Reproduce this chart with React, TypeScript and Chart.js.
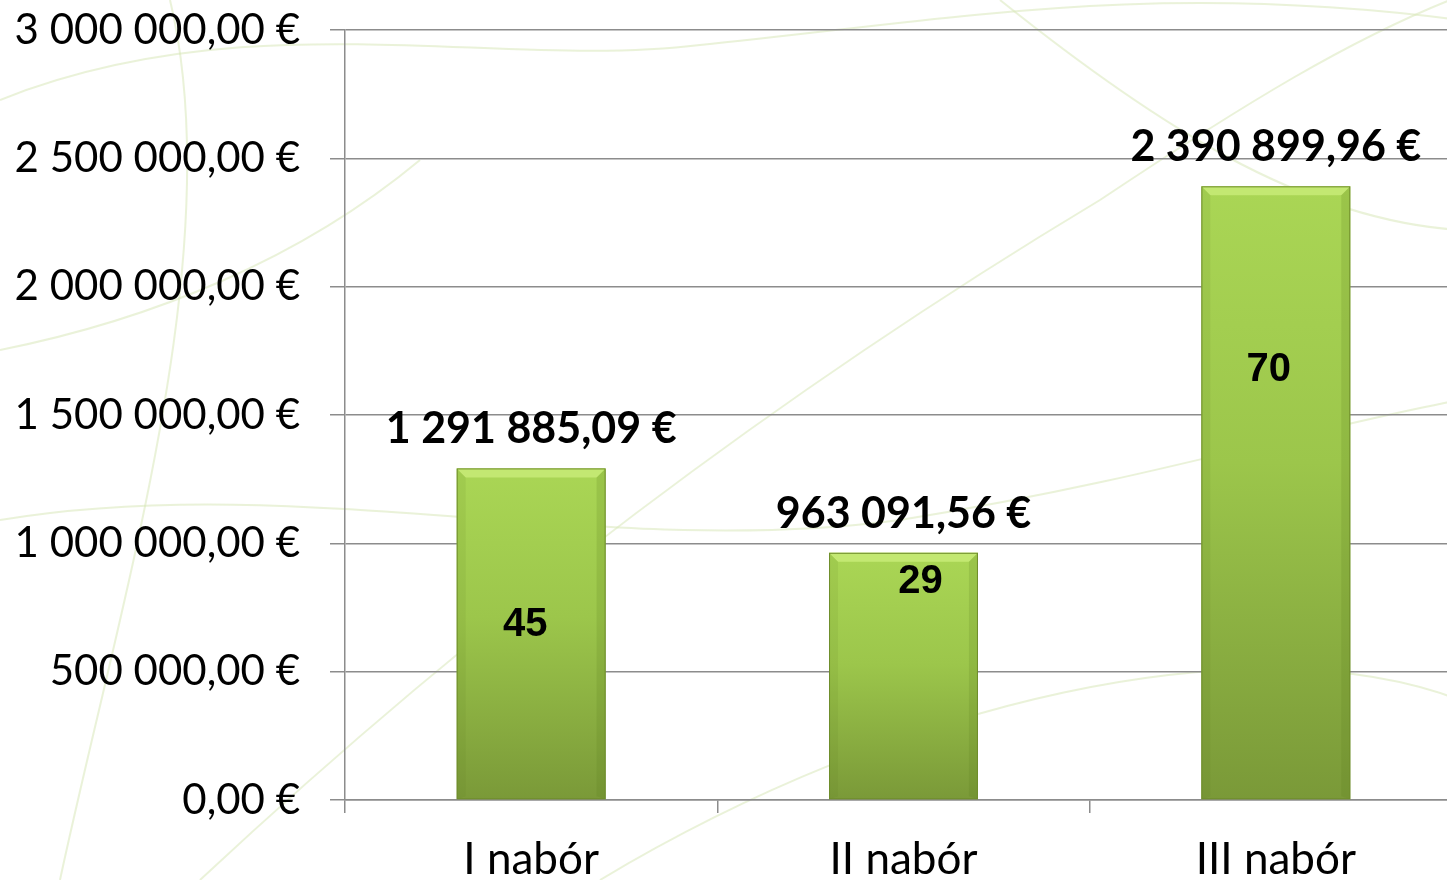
import React, { useEffect, useRef } from "react";
import { Chart, registerables } from "chart.js";

Chart.register(...registerables);

const categories = ["I nabór", "II nabór", "III nabór"];
const amounts = [1291885.09, 963091.56, 2390899.96];
const counts = [45, 29, 70];
const yMin = 0;
const yMax = 3000000;
const yStep = 500000;

// placement of the count labels inside the bars (value units / pixel shift)
const countLabelAt = [682000, 850000, 1675000];
const countLabelShift = [-6, 17, -7];

function formatEuro(v: number): string {
  const [i, d] = Number(v).toFixed(2).split(".");
  return i.replace(/\B(?=(\d{3})+(?!\d))/g, " ") + "," + d + " €";
}

const backgroundPlugin = {
  id: "bgCurves",
  beforeDraw(chart: any) {
    const ctx = chart.ctx;
    ctx.save();
    ctx.fillStyle = "#ffffff";
    ctx.fillRect(0, 0, chart.width, chart.height);
    ctx.strokeStyle = "rgba(214, 230, 180, 0.5)";
    ctx.lineWidth = 2;
    const curves = [
      [0, 100, 250, 0, 500, 70, 700, 45],
      [700, 45, 950, 20, 1150, -20, 1460, 20],
      [0, 520, 300, 470, 600, 560, 900, 520],
      [900, 520, 1150, 480, 1300, 430, 1460, 400],
      [200, 880, 500, 600, 800, 380, 1100, 200],
      [1100, 200, 1250, 100, 1350, 40, 1450, 0],
      [0, 350, 150, 320, 300, 260, 420, 160],
      [170, 0, 230, 250, 120, 600, 60, 880],
      [600, 880, 900, 700, 1250, 620, 1460, 700],
      [1000, 0, 1150, 120, 1300, 220, 1460, 230],
    ];
    for (const c of curves) {
      ctx.beginPath();
      ctx.moveTo(c[0], c[1]);
      ctx.bezierCurveTo(c[2], c[3], c[4], c[5], c[6], c[7]);
      ctx.stroke();
    }
    ctx.restore();
  },
};

const barDecorPlugin = {
  id: "barDecor",
  afterDatasetsDraw(chart: any) {
    const ctx = chart.ctx;
    const meta = chart.getDatasetMeta(0);
    const yScale = chart.scales.y;
    ctx.save();
    meta.data.forEach((bar: any, i: number) => {
      const left = bar.x - bar.width / 2;
      const right = bar.x + bar.width / 2;
      const top = bar.y;
      const bottom = bar.base;
      const bev = 9;
      ctx.fillStyle = "rgba(200, 235, 120, 0.85)";
      ctx.beginPath();
      ctx.moveTo(left, top);
      ctx.lineTo(right, top);
      ctx.lineTo(right - bev, top + bev);
      ctx.lineTo(left + bev, top + bev);
      ctx.closePath();
      ctx.fill();
      ctx.fillStyle = "rgba(90, 120, 30, 0.18)";
      ctx.beginPath();
      ctx.moveTo(right, top);
      ctx.lineTo(right, bottom);
      ctx.lineTo(right - bev, bottom - 3);
      ctx.lineTo(right - bev, top + bev);
      ctx.closePath();
      ctx.fill();
      ctx.fillStyle = "rgba(90, 120, 30, 0.10)";
      ctx.beginPath();
      ctx.moveTo(left, top);
      ctx.lineTo(left, bottom);
      ctx.lineTo(left + bev, bottom - 3);
      ctx.lineTo(left + bev, top + bev);
      ctx.closePath();
      ctx.fill();
      ctx.strokeStyle = "#6f8d2c";
      ctx.lineWidth = 1;
      ctx.strokeRect(left + 0.5, top + 0.5, bar.width - 1, bottom - top - 1);

      ctx.fillStyle = "#000000";
      ctx.textAlign = "center";
      ctx.textBaseline = "middle";
      ctx.font = "bold 43px Lato";
      ctx.fillText(formatEuro(amounts[i]), bar.x, top - 39);

      ctx.font = "bold 40px 'Liberation Sans'";
      ctx.fillText(String(counts[i]), bar.x + countLabelShift[i], yScale.getPixelForValue(countLabelAt[i]));
    });
    ctx.restore();
  },
};

export default function App() {
  const canvasRef = useRef<HTMLCanvasElement | null>(null);

  useEffect(() => {
    document.body.style.margin = "0";
    const canvas = canvasRef.current!;
    const chart = new Chart(canvas, {
      type: "bar",
      data: {
        labels: categories,
        datasets: [
          {
            data: amounts,
            backgroundColor: (c: any) => {
              const ch = c.chart;
              if (!ch.chartArea) return "#98bf45";
              const ys = ch.scales.y;
              const top = ys.getPixelForValue(amounts[c.dataIndex] ?? 0);
              const base = ys.getPixelForValue(0);
              const g = ch.ctx.createLinearGradient(0, top, 0, base);
              g.addColorStop(0, "#aad655");
              g.addColorStop(0.45, "#9cc64b");
              g.addColorStop(1, "#7a9938");
              return g;
            },
            borderWidth: 0,
            barPercentage: 0.4,
            categoryPercentage: 1,
          },
        ],
      },
      options: {
        responsive: false,
        animation: false,
        layout: { padding: { top: 30, left: 0, right: 0, bottom: 0 } },
        plugins: {
          legend: { display: false },
          tooltip: { enabled: false },
          title: { display: false },
        },
        scales: {
          x: {
            offset: true,
            grid: {
              offset: true,
              drawOnChartArea: false,
              drawTicks: true,
              tickLength: 13,
              color: "#8c8c8c",
              lineWidth: 1.5,
            },
            border: { display: true, color: "#8c8c8c", width: 1.5 },
            ticks: {
              color: "#000000",
              font: { family: "Lato", size: 44 },
              padding: 20,
              maxRotation: 0,
            },
            afterFit: (s: any) => {
              s.height = 80;
              s.paddingLeft = 0;
              s.paddingRight = 0;
            },
          },
          y: {
            min: yMin,
            max: yMax,
            grid: {
              color: "#8c8c8c",
              lineWidth: 1.5,
              tickLength: 15,
              drawTicks: true,
            },
            border: { display: true, color: "#8c8c8c", width: 1.5 },
            ticks: {
              stepSize: yStep,
              color: "#000000",
              font: { family: "Lato", size: 42 },
              padding: 30,
              callback: (v: any) => formatEuro(Number(v)),
            },
            afterFit: (s: any) => {
              s.width = 345;
              s.paddingTop = 0;
              s.paddingBottom = 0;
            },
          },
        },
      },
      plugins: [backgroundPlugin, barDecorPlugin],
    });
    return () => chart.destroy();
  }, []);

  return (
    <div style={{ position: "fixed", left: 0, top: 0, width: 1447, height: 880, overflow: "hidden", background: "#fff" }}>
      <canvas ref={canvasRef} width={1462} height={880} style={{ display: "block" }} />
    </div>
  );
}
